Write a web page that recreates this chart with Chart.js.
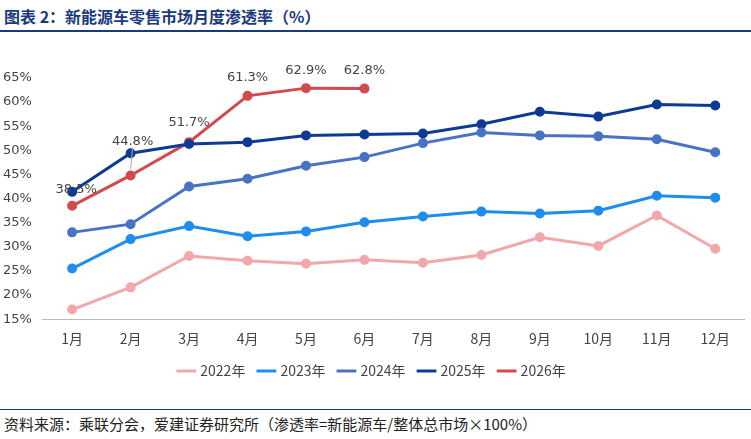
<!DOCTYPE html>
<html><head><meta charset="utf-8">
<script src="https://cdn.jsdelivr.net/npm/chart.js@4"></script>
<style>
body{margin:0;width:751px;height:439px;background:#fff;font-family:"Noto Sans CJK SC",sans-serif;position:relative;overflow:hidden}
#title{position:absolute;left:4px;top:4px;font-size:16px;font-weight:bold;color:#1a3a7a}
#tl{position:absolute;left:0;top:30px;width:751px;height:2px;background:#1a3a7a}
#bl{position:absolute;left:0;top:409px;width:751px;height:1px;background:#1a3a7a}
#src{position:absolute;left:4px;top:413px;font-size:15px;color:#222}
#wrap{position:absolute;left:0;top:50px;width:751px;height:338px}
</style></head><body>
<div id="title">图表 2：新能源车零售市场月度渗透率（%）</div>
<div id="tl"></div>
<div id="wrap"><canvas id="c"></canvas></div>
<div id="bl"></div>
<div id="src">资料来源：乘联分会，爱建证券研究所（渗透率=新能源车/整体总市场×100%）</div>
<script>
const months = ['1月','2月','3月','4月','5月','6月','7月','8月','9月','10月','11月','12月'];
const s2022 = [17.0,21.6,28.1,27.1,26.5,27.3,26.7,28.3,32.0,30.2,36.5,29.6];
const s2023 = [25.5,31.6,34.3,32.2,33.2,35.1,36.3,37.3,36.9,37.5,40.6,40.2];
const s2024 = [33.0,34.7,42.5,44.1,46.8,48.6,51.5,53.7,53.1,52.9,52.3,49.6];
const s2025 = [41.4,49.4,51.3,51.7,53.1,53.3,53.5,55.4,58.0,57.0,59.5,59.3];
const s2026 = [38.5,44.8,51.7,61.3,62.9,62.8];

function ds(label, data, color) {
  return {label, data, borderColor: color, backgroundColor: color, borderWidth: 3,
    pointRadius: 3.5, pointHoverRadius: 3.5, tension: 0};
}

const labelPlugin = {
  id: 'lbl',
  afterDatasetsDraw(chart) {
    const ctx = chart.ctx;
    const meta = chart.getDatasetMeta(4);
    ctx.save();
    ctx.font = '13px "DejaVu Sans", sans-serif';
    ctx.fillStyle = '#444';
    ctx.textAlign = 'center';
    meta.data.forEach((p, i) => {
      let dx = 0, dy = -14;
      if (i == 0) { dx = 4; dy = -16; }
      if (i == 1) { dx = 2; dy = -34;
        ctx.strokeStyle = '#aaa'; ctx.lineWidth = 1;
        ctx.beginPath(); ctx.moveTo(p.x + 2, p.y - 28); ctx.lineTo(p.x, p.y - 6); ctx.stroke(); }
      if (i == 2) { dy = -20; }
      if (i >= 3) { dy = -18; }
      ctx.fillText(s2026[i].toFixed(1) + '%', p.x + dx, p.y + dy);
    });
    ctx.restore();
  }
};

new Chart(document.getElementById('c'), {
  type: 'line',
  data: {
    labels: months,
    datasets: [
      ds('2022年', s2022, '#f2a7aa'),
      ds('2023年', s2023, '#1f8ded'),
      ds('2024年', s2024, '#4a72c4'),
      ds('2025年', s2025, '#0e3a96'),
      ds('2026年', s2026, '#d24a4d')
    ]
  },
  options: {
    responsive: true, maintainAspectRatio: false, animation: false,
    layout: {padding: {left: 0, right: 6, top: 28}},
    plugins: {
      legend: {position: 'bottom', labels: {usePointStyle: true, pointStyle: 'line', boxWidth: 30,
        font: {size: 14, family: '"Noto Sans CJK SC"'}, color: '#444', padding: 14}},
      tooltip: {enabled: false}
    },
    scales: {
      y: {min: 15, max: 65, ticks: {stepSize: 5, callback: v => v + '%', color: '#444',
          font: {size: 13, family: '"DejaVu Sans"'}}, grid: {display: false}, border: {display: false}},
      x: {offset: true, ticks: {color: '#444', font: {size: 14, family: '"Noto Sans CJK SC"'}},
          grid: {display: false}, border: {color: '#bbb'}}
    }
  },
  plugins: [labelPlugin]
});
</script>
</body></html>
